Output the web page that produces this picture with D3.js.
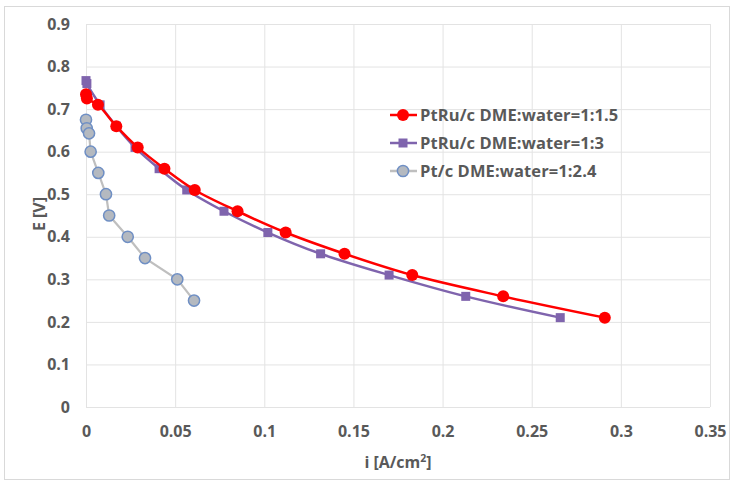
<!DOCTYPE html>
<html><head><meta charset="utf-8">
<script src="https://cdn.jsdelivr.net/npm/d3@7"></script>
<style>
body{margin:0;background:#fff;}
svg{display:block;font-family:"Open Sans",sans-serif;}
</style></head>
<body><svg id="c" width="732" height="482"></svg>
<script>
const seriesNames = ["PtRu/c DME:water=1:1.5","PtRu/c DME:water=1:3","Pt/c DME:water=1:2.4"];
const redX = [0,0.0005,0.0067,0.017,0.029,0.044,0.061,0.085,0.112,0.145,0.183,0.234,0.291];
const redY = [0.735,0.725,0.71,0.66,0.61,0.56,0.51,0.46,0.41,0.36,0.31,0.26,0.21];
const purpleX = [0,0.0005,0.0079,0.017,0.0275,0.041,0.0565,0.0774,0.102,0.1316,0.170,0.213,0.266];
const purpleY = [0.767,0.76,0.71,0.66,0.61,0.56,0.51,0.46,0.41,0.36,0.31,0.26,0.21];
const greyX = [0,0.0004,0.0017,0.0026,0.0069,0.0112,0.013,0.0234,0.0331,0.0512,0.0606];
const greyY = [0.675,0.655,0.643,0.6,0.55,0.5,0.45,0.4,0.35,0.3,0.25];
const xTicks = [0,0.05,0.1,0.15,0.2,0.25,0.3,0.35];
const yTicks = [0,0.1,0.2,0.3,0.4,0.5,0.6,0.7,0.8,0.9];

const svg = d3.select("#c");
const L=86,R=710,T=24,B=407;
const FS="16px";
const x = d3.scaleLinear().domain([0,0.35]).range([L,R]);
const y = d3.scaleLinear().domain([0,0.9]).range([B,T]);

svg.append("rect").attr("x",4.5).attr("y",6.5).attr("width",725).attr("height",473)
  .attr("fill","#fff").attr("stroke","#d9d9d9");

// grid
svg.append("g").selectAll("line").data(yTicks).join("line")
  .attr("x1",L).attr("x2",R).attr("y1",d=>y(d)+0.5).attr("y2",d=>y(d)+0.5)
  .attr("stroke","#e3e3e3");
svg.append("g").selectAll("line").data(xTicks).join("line")
  .attr("y1",T).attr("y2",B).attr("x1",d=>x(d)+0.5).attr("x2",d=>x(d)+0.5)
  .attr("stroke","#e3e3e3");

const xa = svg.append("g").attr("transform",`translate(0,${B})`)
  .call(d3.axisBottom(x).tickValues(xTicks).tickFormat(d=>d3.format("")(+d.toFixed(2))).tickSize(0).tickPadding(19));
const ya = svg.append("g").attr("transform",`translate(${L},0)`)
  .call(d3.axisLeft(y).tickValues(yTicks).tickFormat(d=>d3.format("")(+d.toFixed(1))).tickSize(0).tickPadding(16));
[xa,ya].forEach(a=>{a.select(".domain").remove();
  a.selectAll("text").attr("fill","#595959").attr("font-size",FS).attr("font-weight","700").attr("font-family","'Open Sans',sans-serif");});

svg.append("text").attr("x",398).attr("y",468).attr("text-anchor","middle")
  .attr("fill","#595959").style("font-size",FS).style("font-weight","700")
  .html('i [A/cm<tspan dy="-6" font-size="10.5">2</tspan><tspan dy="6">]</tspan>');
svg.append("text").attr("transform","translate(45,214) rotate(-90)").attr("text-anchor","middle")
  .attr("fill","#595959").style("font-size",FS).style("font-weight","700").text("E [V]");

function pts(xs,ys){return xs.map((v,i)=>[v,ys[i]]);}
const red = pts(redX,redY), purple=pts(purpleX,purpleY), grey=pts(greyX,greyY);
const smooth = d3.line().x(d=>x(d[0])).y(d=>y(d[1])).curve(d3.curveCatmullRom.alpha(0.5));
const straight = d3.line().x(d=>x(d[0])).y(d=>y(d[1]));

svg.append("path").attr("d",straight(grey)).attr("fill","none").attr("stroke","#bfbfbf").attr("stroke-width",2.2);
svg.append("g").selectAll("circle").data(grey).join("circle")
  .attr("cx",d=>x(d[0])).attr("cy",d=>y(d[1])).attr("r",5.6)
  .attr("fill","#b4b9c0").attr("stroke","#6f8fc4").attr("stroke-width",1.5);

svg.append("path").attr("d",smooth(purple)).attr("fill","none").attr("stroke","#7f64ad").attr("stroke-width",2.5);
svg.append("g").selectAll("rect").data(purple).join("rect")
  .attr("x",d=>x(d[0])-4.5).attr("y",d=>y(d[1])-4.5).attr("width",9).attr("height",9)
  .attr("fill","#7f64ad");

svg.append("path").attr("d",smooth(red)).attr("fill","none").attr("stroke","#ff0000").attr("stroke-width",2.5);
svg.append("g").selectAll("circle").data(red).join("circle")
  .attr("cx",d=>x(d[0])).attr("cy",d=>y(d[1])).attr("r",6).attr("fill","#ff0000");

// legend
const lg = svg.append("g");
const ly = [115,143,171];
const lcol = ["#ff0000","#7f64ad","#bfbfbf"];
seriesNames.forEach((n,i)=>{
  lg.append("line").attr("x1",390).attr("x2",417).attr("y1",ly[i]).attr("y2",ly[i]).attr("stroke",lcol[i]).attr("stroke-width",2.5);
  if(i===0) lg.append("circle").attr("cx",403).attr("cy",ly[i]).attr("r",6).attr("fill","#ff0000");
  if(i===1) lg.append("rect").attr("x",398.5).attr("y",ly[i]-4.5).attr("width",9).attr("height",9).attr("fill","#7f64ad");
  if(i===2) lg.append("circle").attr("cx",403).attr("cy",ly[i]).attr("r",5.6).attr("fill","#b4b9c0").attr("stroke","#6f8fc4").attr("stroke-width",1.5);
  lg.append("text").attr("x",420).attr("y",ly[i]).attr("dy","0.36em").attr("fill","#595959")
    .style("font-size","16.5px").style("font-weight","700").style("letter-spacing","0.1px").text(n);
});
</script></body></html>
